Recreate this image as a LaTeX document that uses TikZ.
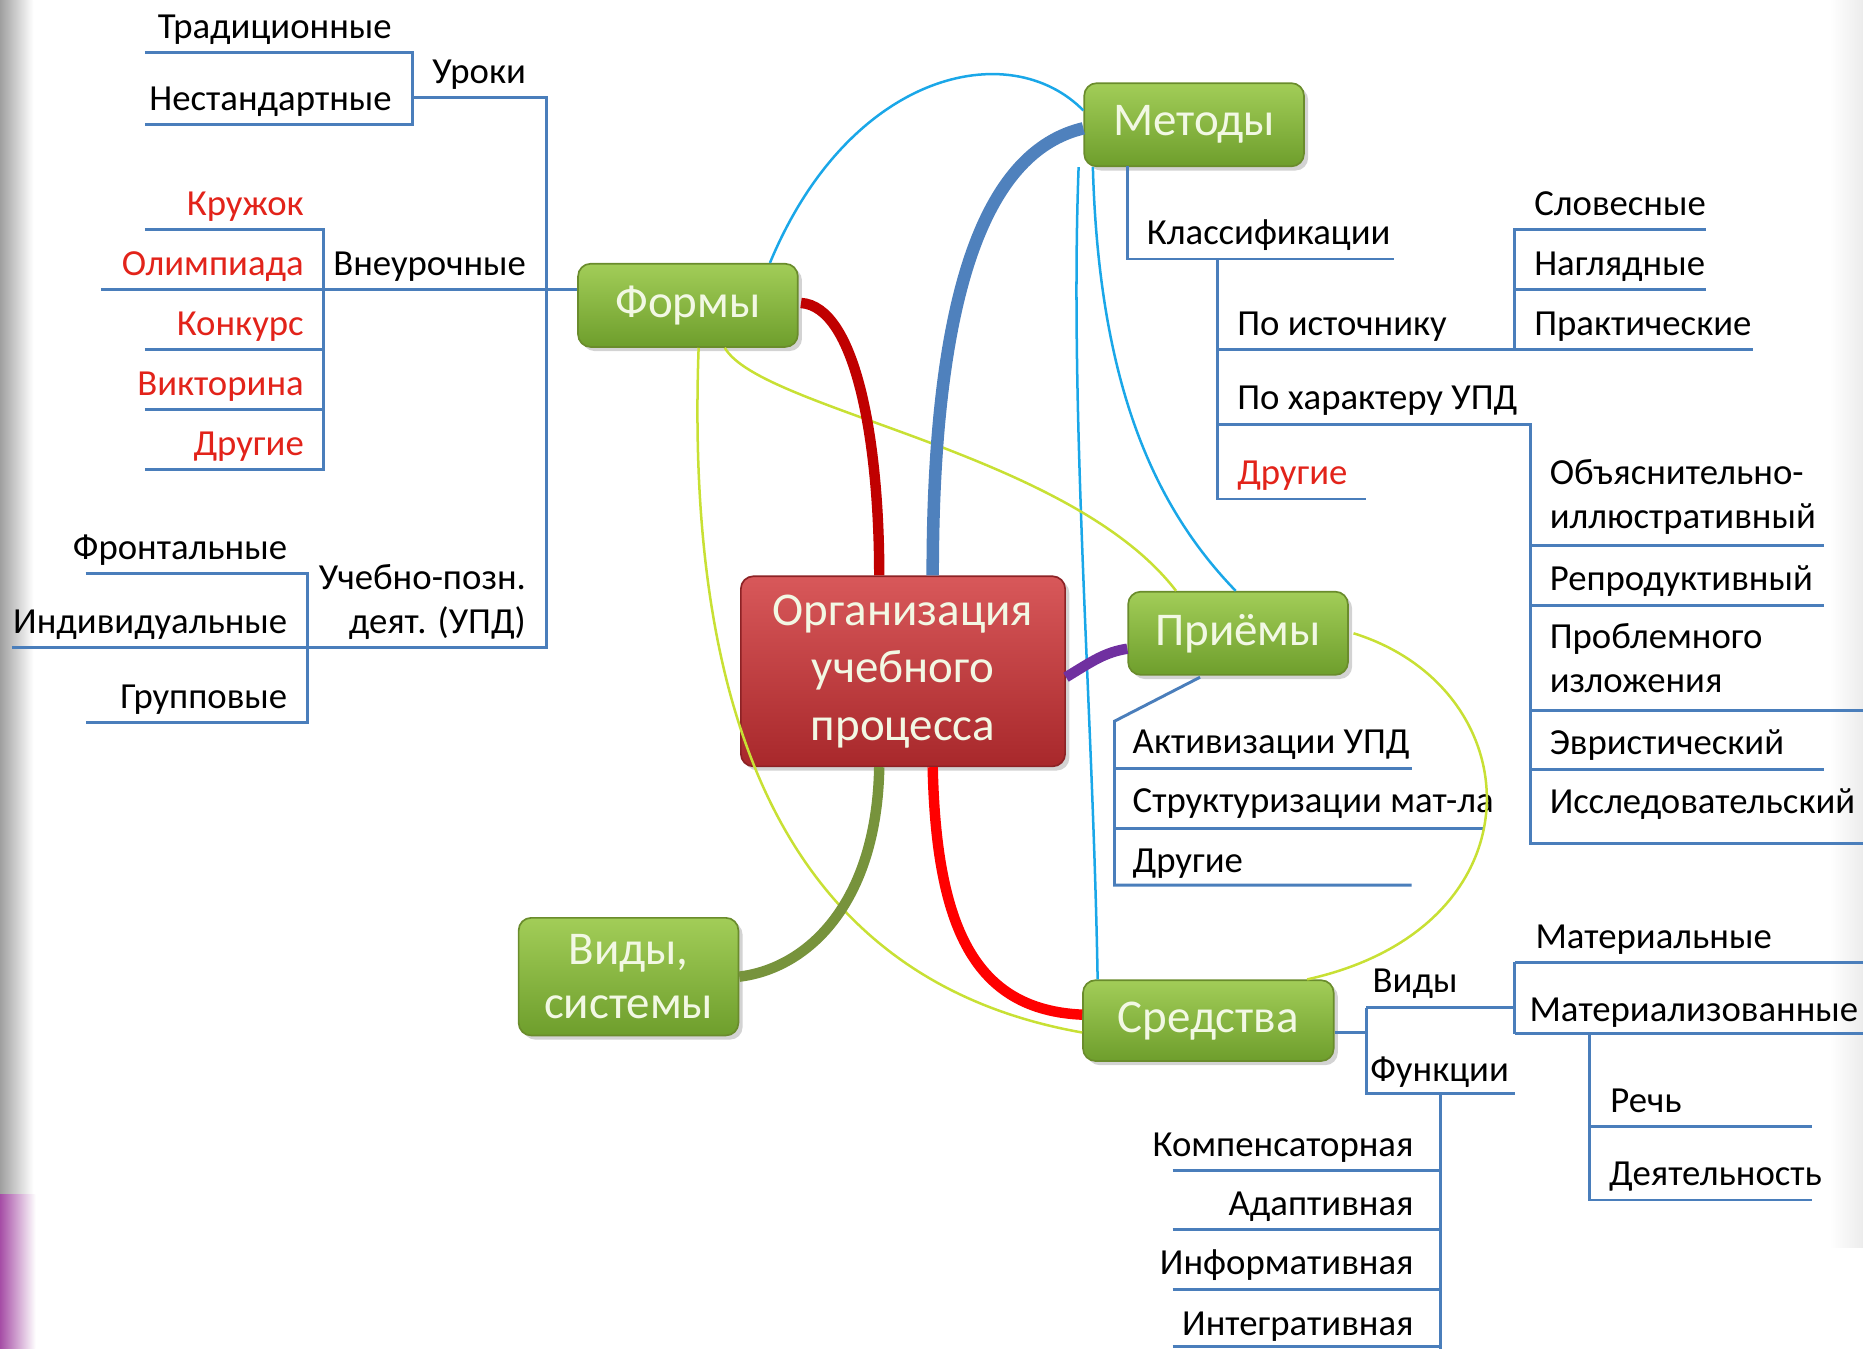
\documentclass[tikz,border=0pt]{standalone}
\usepackage{fontspec}
\setmainfont{Carlito}
\usetikzlibrary{positioning,calc,shadows}
\definecolor{treeblue}{HTML}{4A7EBB}
\definecolor{boxtop}{HTML}{A2CD58}
\definecolor{boxbot}{HTML}{6E9E2C}
\definecolor{boxedge}{HTML}{6A8C2C}
\definecolor{boxtext}{HTML}{F2F8E4}
\definecolor{coretop}{HTML}{D8585A}
\definecolor{corebot}{HTML}{A8282B}
\definecolor{coreedge}{HTML}{8C2225}
\definecolor{labelred}{HTML}{E2231A}
\definecolor{darkred}{HTML}{C00000}
\definecolor{thickblue}{HTML}{4F81BD}
\definecolor{purp}{HTML}{7030A0}
\definecolor{olive}{HTML}{77933C}
\definecolor{cyanlink}{HTML}{1AA7E8}
\definecolor{limelink}{HTML}{C8E034}

\begin{document}
\begin{tikzpicture}[x=0.02cm,y=-0.02cm,
    topic node/.style={rectangle,rounded corners=6pt,draw=boxedge,line width=0.8pt,top color=boxtop,bottom color=boxbot,
      text=boxtext,font=\fontsize{22.5}{26}\selectfont,align=center,minimum width=3.7cm,minimum height=1.4cm,
      drop shadow={opacity=0.35,shadow xshift=2pt,shadow yshift=-2pt}},
    core node/.style={topic node,draw=coreedge,top color=coretop,bottom color=corebot,minimum width=5.46cm,minimum height=3.2cm,
      font=\fontsize{22.5}{27.5}\selectfont},
    leaf/.style={inner sep=0pt,font=\fontsize{17.6}{21}\selectfont},
    red leaf/.style={leaf,text=labelred},
    tree/.style={draw=treeblue,line width=1.4pt},
    thick link/.style={line width=5pt},
    thin link/.style={line width=1.2pt}]
  \useasboundingbox (0,0) rectangle (1568,1135);
  % edges of the screen
  \shade[left color=gray!75,right color=white] (0,0) rectangle (28,1135);
  \shade[left color=violet!70,right color=white] (0,1005) rectangle (30,1135);
  \shade[left color=white,right color=gray!15] (1540,0) rectangle (1568,1050);

  % main topics
  \node[core node] (core) at (760,565) {Организация\\учебного\\процесса};
  \node[topic node] (forms) at (579,257) {Формы};
  \node[topic node] (methods) at (1005,105) {Методы};
  \node[topic node] (tricks) at (1042,533) {Приёмы};
  \node[topic node,minimum width=4.22cm,minimum height=1.36cm] (means) at (1017,859) {Средства};
  \node[topic node,minimum height=1.98cm] (kinds) at (529,822) {Виды,\\системы};

  % Формы
  \node[leaf,anchor=base east] (trad) at (330,32) {Традиционные};
  \node[leaf,anchor=base east] (nonst) at (330,93) {Нестандартные};
  \node[leaf,anchor=base east] (lessons) at (443,70) {Уроки};
  \node[leaf,anchor=base east] (extra) at (443,232) {Внеурочные};
  \node[red leaf,anchor=base east] (circle) at (256,181) {Кружок};
  \node[red leaf,anchor=base east] (olymp) at (256,232) {Олимпиада};
  \node[red leaf,anchor=base east] (contest) at (256,282) {Конкурс};
  \node[red leaf,anchor=base east] (quiz) at (256,333) {Викторина};
  \node[red leaf,anchor=base east] (other1) at (256,383) {Другие};
  \node[leaf,anchor=base east,align=right] (upd) at (443,533) {Учебно-позн.\\деят. (УПД)};
  \node[leaf,anchor=base east] (front) at (242,471) {Фронтальные};
  \node[leaf,anchor=base east] (indiv) at (242,533) {Индивидуальные};
  \node[leaf,anchor=base east] (group) at (242,596) {Групповые};
  \draw[tree] (10,545) -- (460,545) -- (460,82) -- (347,82);
  \draw[tree] (122,44) -- (347,44) -- (347,105) -- (122,105);
  \draw[tree] (85,244) -- (forms.west |- 0,244);
  \draw[tree] (122,193) -- (272,193) -- (272,395) -- (122,395);
  \draw[tree] (122,294) -- (272,294);
  \draw[tree] (122,345) -- (272,345);
  \draw[tree] (72,483) -- (259,483) -- (259,608) -- (72,608);

  % Методы
  \node[leaf,anchor=base west] (classes) at (965,206) {Классификации};
  \node[leaf,anchor=base west] (source) at (1041,282) {По источнику};
  \node[leaf,anchor=base west] (verbal) at (1291,181) {Словесные};
  \node[leaf,anchor=base west] (visual) at (1291,232) {Наглядные};
  \node[leaf,anchor=base west] (practic) at (1291,282) {Практические};
  \node[leaf,anchor=base west] (nature) at (1041,345) {По характеру УПД};
  \node[red leaf,anchor=base west] (other2) at (1041,408) {Другие};
  \node[leaf,anchor=base west,align=left] (explan) at (1304,445) {Объяснительно-\\иллюстративный};
  \node[leaf,anchor=base west] (reprod) at (1304,497) {Репродуктивный};
  \node[leaf,anchor=base west,align=left] (problem) at (1304,583) {Проблемного\\изложения};
  \node[leaf,anchor=base west] (heur) at (1304,635) {Эвристический};
  \node[leaf,anchor=base west] (research) at (1304,685) {Исследовательский};
  \draw[tree] (949,140) -- (949,218) -- (1173,218);
  \draw[tree] (1025,218) -- (1025,420) -- (1150,420);
  \draw[tree] (1025,294) -- (1475,294);
  \draw[tree] (1275,294) -- (1275,193) -- (1436,193);
  \draw[tree] (1275,244) -- (1436,244);
  \draw[tree] (1025,357) -- (1288,357) -- (1288,710) -- (1568,710);
  \draw[tree] (1288,459) -- (1535,459);
  \draw[tree] (1288,510) -- (1535,510);
  \draw[tree] (1288,598) -- (1568,598);
  \draw[tree] (1288,648) -- (1535,648);

  % Приёмы
  \node[leaf,anchor=base west] (activ) at (953,634) {Активизации УПД};
  \node[leaf,anchor=base west] (struct) at (953,684) {Структуризации мат-ла};
  \node[leaf,anchor=base west] (other3) at (953,734) {Другие};
  \draw[tree] (1010,570) -- (938,607) -- (938,745) -- (1188,745);
  \draw[tree] (938,647) -- (1188,647);
  \draw[tree] (938,697) -- (1250,697);

  % Средства
  \node[leaf,anchor=base west] (types) at (1155,835) {Виды};
  \node[leaf,anchor=base west] (funcs) at (1153,910) {Функции};
  \node[leaf,anchor=base west] (mater) at (1292,798) {Материальные};
  \node[leaf,anchor=base west] (materz) at (1287,860) {Материализованные};
  \node[leaf,anchor=base west] (speech) at (1355,936) {Речь};
  \node[leaf,anchor=base west] (activity) at (1354,998) {Деятельность};
  \node[leaf,anchor=base east] (comp) at (1190,973) {Компенсаторная};
  \node[leaf,anchor=base east] (adapt) at (1190,1023) {Адаптивная};
  \node[leaf,anchor=base east] (inform) at (1190,1073) {Информативная};
  \node[leaf,anchor=base east] (integr) at (1190,1124) {Интегративная};
  \draw[tree] (means.east |- 0,869) -- (1150,869);
  \draw[tree] (1150,848) -- (1150,920) -- (1275,920);
  \draw[tree] (1150,848) -- (1275,848);
  \draw[tree] (1275,810) -- (1275,870);
  \draw[tree] (1275,810) -- (1568,810);
  \draw[tree] (1275,870) -- (1568,870);
  \draw[tree] (1338,870) -- (1338,1010) -- (1525,1010);
  \draw[tree] (1338,948) -- (1525,948);
  \draw[tree] (1212,920) -- (1212,1135);
  \draw[tree] (987,985) -- (1212,985);
  \draw[tree] (987,1035) -- (1212,1035);
  \draw[tree] (987,1085) -- (1212,1085);
  \draw[tree] (987,1133) -- (1212,1133);

  % thin cross links
  \draw[thin link,cyanlink] ($(forms.north)+(69,0)$) .. controls (715,60) and (850,30) .. ($(methods.west)+(0,-12)$);
  \draw[thin link,cyanlink] ($(methods.south west)+(-4,0)$) .. controls (900,350) and (920,600) .. ($(means.north west)+(13,0)$);
  \draw[thin link,cyanlink] ($(methods.south west)+(8,0)$) .. controls (925,330) and (975,430) .. ($(tricks.north)+(-2,0)$);
  \draw[thin link,limelink] ($(forms.south)+(31,0)$) .. controls (640,345) and (900,380) .. ($(tricks.north west)+(41,0)$);
  \draw[thin link,limelink] ($(forms.south)+(9,0)$) .. controls (575,650) and (690,830) .. ($(means.west)+(0,10)$);
  \draw[thin link,limelink] ($(tricks.east)+(4,0)$) .. controls (1290,580) and (1300,780) .. ($(means.north east)+(-23,0)$);

  % thick links from the core
  \draw[thick link,darkred] ($(forms.east)+(2,-2)$) .. controls (720,258) and (740,370) .. ($(core.north)+(-20,0)$);
  \draw[thick link,thickblue,line width=6pt] ($(methods.west)+(0,3)$) .. controls (840,125) and (785,220) .. ($(core.north)+(25,0)$);
  \draw[thick link,purp] ($(core.east)+(0,5)$) .. controls (920,556) and (930,549) .. ($(tricks.west)+(0,13)$);
  \draw[thick link,olive] ($(core.south)+(-20,0)$) .. controls (738,760) and (680,815) .. ($(kinds.east)+(0,0)$);
  \draw[thick link,red] ($(core.south)+(25,0)$) .. controls (788,780) and (820,850) .. ($(means.west)+(0,-5)$);
\end{tikzpicture}
\end{document}
